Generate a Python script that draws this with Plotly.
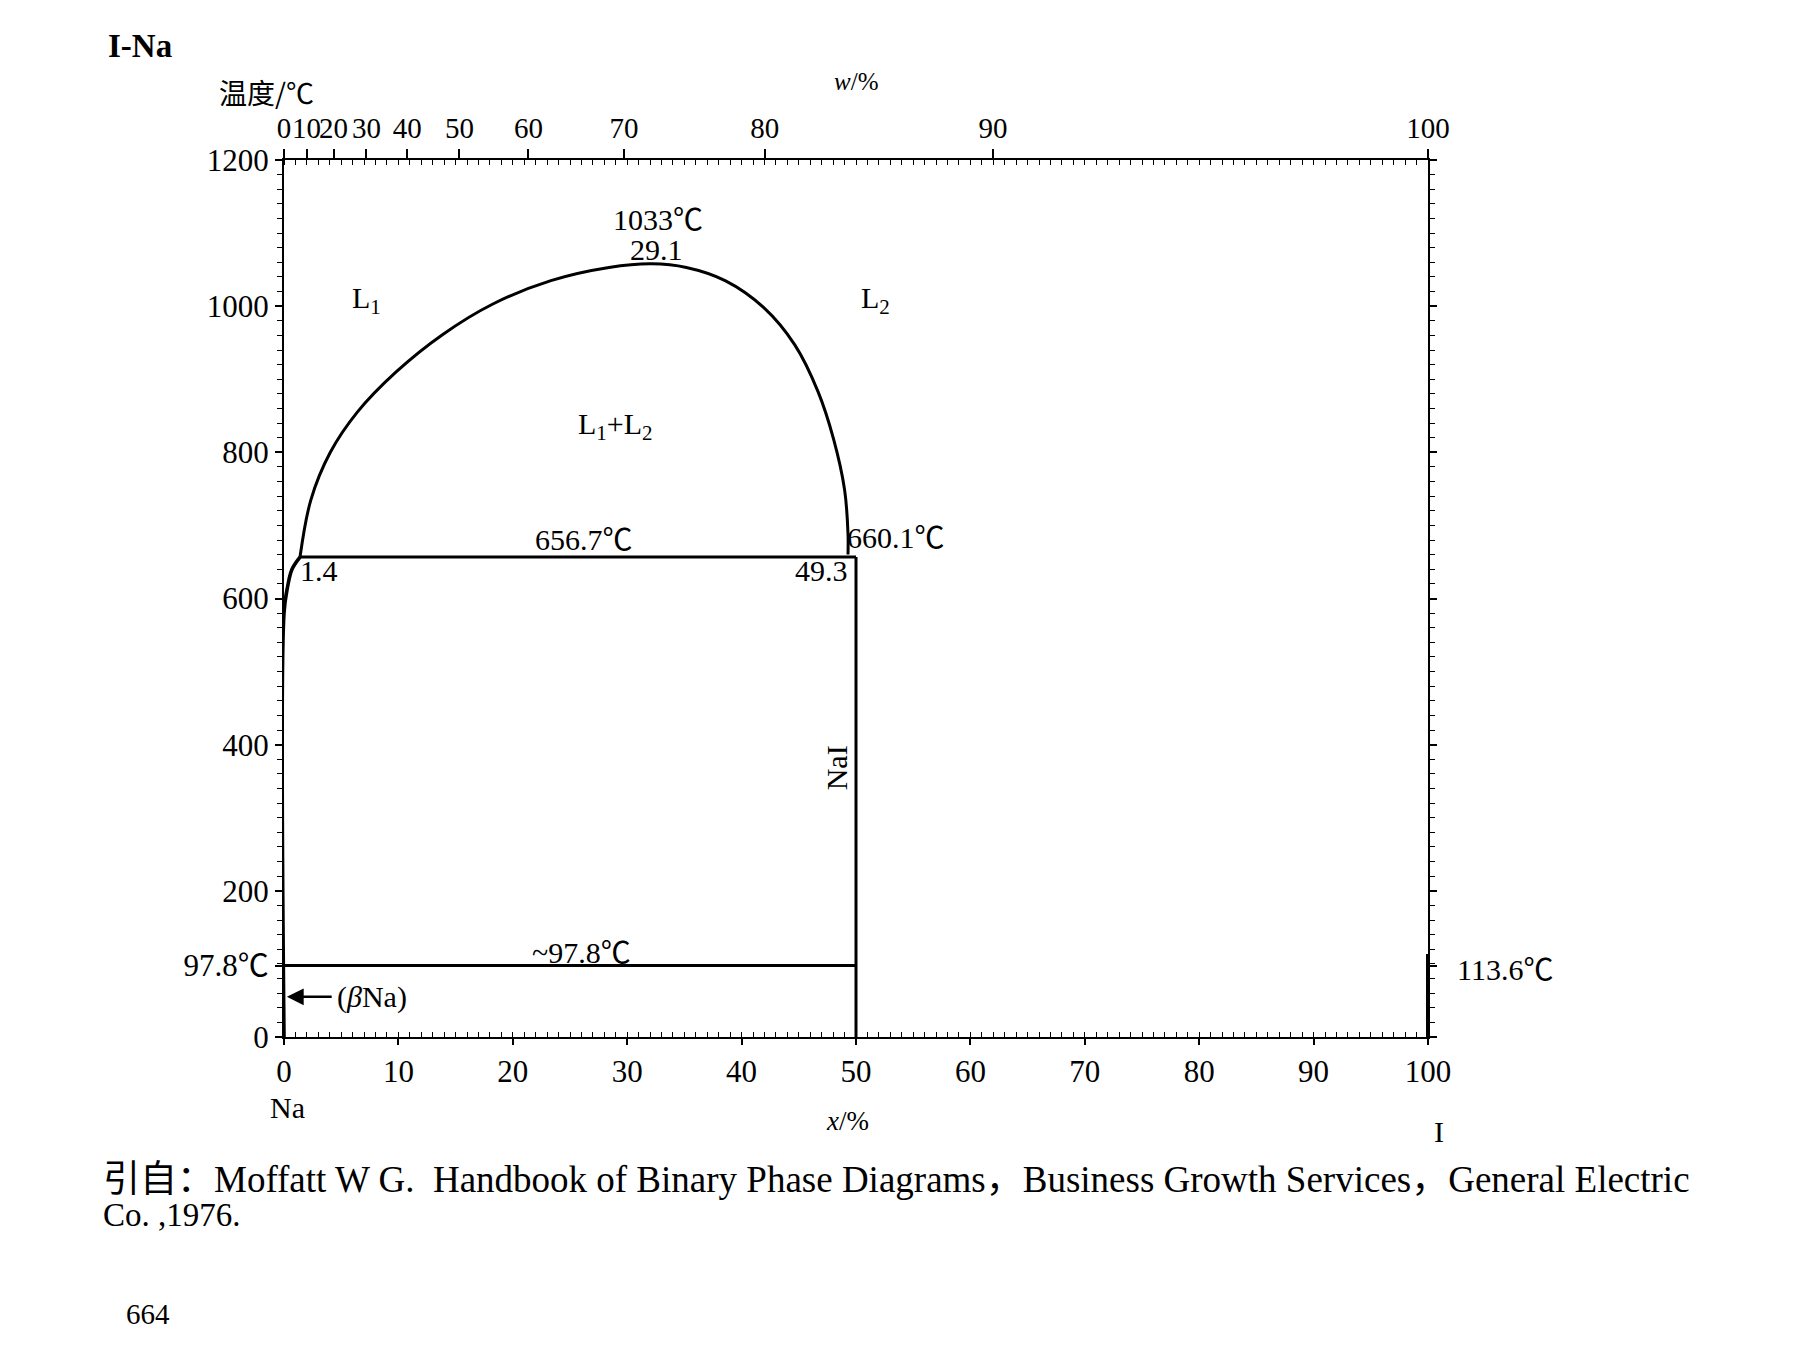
import plotly.graph_objects as go

# ---------------- data (x = mole % I, T = temperature in °C) ----------------
na_side_x = [0, 0, 0.3, 0.7, 1.4]
na_side_T = [0, 580, 615, 640, 656.7]

dome_x = [1.4, 2.35, 4.05, 6.41, 9.80, 13.85, 18.26, 23.33, 28.41, 32.13,
          35.17, 38.56, 41.94, 44.65, 46.68, 48.04, 49.0, 49.3, 49.3]
dome_T = [656.7, 735, 800, 855, 910, 961, 1003, 1035, 1053, 1058,
          1053, 1035, 998, 947, 883, 818, 749, 689, 660.1]

monotectic_x = [1.4, 50]
monotectic_T = [656.7, 656.7]

nai_x = [50, 50]
nai_T = [656.7, 0]

eutectic_x = [0, 50]
eutectic_T = [97.8, 97.8]

iodine_x = [100, 100]
iodine_T = [0, 113.6]

# axis ticks
bottom_ticks = [0, 10, 20, 30, 40, 50, 60, 70, 80, 90, 100]
left_ticks = [0, 97.8, 200, 400, 600, 800, 1000, 1200]
left_ticktext = ["0", "97.8℃", "200", "400", "600", "800", "1000", "1200"]
top_w_labels = [0, 10, 20, 30, 40, 50, 60, 70, 80, 90, 100]   # mass % I

M_I, M_NA = 126.9, 22.99


def w_to_x(w):
    a = w / M_I
    b = (100 - w) / M_NA
    return 100 * a / (a + b)


top_tickvals = [w_to_x(w) for w in top_w_labels]
top_ticktext = [str(w) for w in top_w_labels]

SERIF = "Liberation Serif, Times New Roman, Noto Sans CJK SC, serif"
CJK = "Noto Sans CJK SC, Liberation Serif"
BLACK = "#000000"

X_MAX, T_MAX = 100.0, 1200.0

fig = go.Figure()


def add_line(x, y, width=3.0, shape="linear"):
    fig.add_trace(go.Scatter(x=x, y=y, mode="lines",
                             line=dict(color=BLACK, width=width, shape=shape,
                                       smoothing=1.0 if shape == "spline" else None),
                             cliponaxis=False, hoverinfo="skip", showlegend=False))


add_line(na_side_x, na_side_T, width=3.6, shape="spline")
add_line(dome_x, dome_T, width=3.0, shape="spline")
add_line(monotectic_x, monotectic_T, width=3.0)
add_line(nai_x, nai_T, width=3.0)
add_line(eutectic_x, eutectic_T, width=3.2)
add_line(iodine_x, iodine_T, width=4.0)

# invisible trace to anchor top axis
fig.add_trace(go.Scatter(x=[0, 100], y=[None, None], xaxis="x2", yaxis="y",
                         mode="lines", hoverinfo="skip", showlegend=False))

ann = []


def txt(x, y, text, size=30, xanchor="center", yanchor="middle", family=SERIF,
        angle=0):
    # positions given in data units, placed via paper fractions so labels
    # outside the axis ranges are still drawn
    ann.append(dict(x=x / X_MAX, y=y / T_MAX, xref="paper", yref="paper",
                    text=text, showarrow=False,
                    xanchor=xanchor, yanchor=yanchor, textangle=angle,
                    font=dict(family=family, size=size, color=BLACK)))


txt(7.2, 1008, "L<sub>1</sub>")
txt(51.7, 1008, "L<sub>2</sub>")
txt(29.0, 836, "L<sub>1</sub>+L<sub>2</sub>")
txt(32.7, 1118, "1033℃")
txt(32.6, 1077, "29.1")
txt(26.2, 681, "656.7℃")
txt(3.1, 638, "1.4")
txt(47.0, 638, "49.3")
txt(49.0, 684, "660.1℃", xanchor="left")
txt(48.25, 369, "NaI", angle=-90)
txt(26.0, 116, "~97.8℃")
txt(4.5, 55, "(<i>β</i>Na)", xanchor="left")
txt(102.4, 93, "113.6℃", xanchor="left")
txt(0.3, -97, "Na")
txt(49.3, -115, "<i>x</i>/%", size=27)
txt(101.0, -129, "I")
txt(50.0, 1307, "<i>w</i>/%", size=25)
txt(-1.5, 1293, "温度/℃", size=28, family=CJK)
txt(-15.6, 1356, "<b>I-Na</b>", size=33, xanchor="left")

# arrow for (βNa)
ann.append(dict(x=0.25, y=55, xref="x", yref="y", ax=4.3, ay=55,
                axref="x", ayref="y", text="", showarrow=True,
                arrowhead=2, arrowsize=1.4, arrowwidth=2.4, arrowcolor=BLACK))

# figure geometry (the page adds an 8 px body margin)
OFF = 8
W, H = 1795 - 2 * OFF, 1346 - 2 * OFF
L, T = 284 - OFF, 160 - OFF
PW, PH = 1144, 877
R, B = W - L - PW, H - T - PH


def paper_x(px):
    return (px - OFF - L) / PW


def paper_y(py):
    return 1 - (py - OFF - T) / PH


for px, py, text, size in [
    (101, 1179, "引自：Moffatt W G.  Handbook of Binary Phase Diagrams，Business Growth Services，General Electric", 37),
    (101, 1215, "Co. ,1976.", 33),
    (124, 1314, "664", 29),
]:
    ann.append(dict(x=paper_x(px), y=paper_y(py), xref="paper", yref="paper",
                    text=text, showarrow=False, xanchor="left", yanchor="middle",
                    font=dict(family=SERIF, size=size, color=BLACK)))

fig.update_layout(
    width=W, height=H,
    margin=dict(l=L, r=R, t=T, b=B, autoexpand=False),
    paper_bgcolor="white", plot_bgcolor="white",
    showlegend=False,
    annotations=ann,
    xaxis=dict(range=[0, X_MAX], tickmode="array", tickvals=bottom_ticks,
               ticks="outside", ticklen=6, tickwidth=1.8, tickcolor=BLACK,
               showline=True, linecolor=BLACK, linewidth=2.0,
               showgrid=False, zeroline=False, tickangle=0,
               tickfont=dict(family=SERIF, size=31, color=BLACK),
               minor=dict(tickvals=list(range(0, 101)), ticks="inside",
                          ticklen=5, tickwidth=1.3, tickcolor=BLACK,
                          showgrid=False)),
    xaxis2=dict(range=[0, X_MAX], overlaying="x", side="top", anchor="y",
                tickmode="array", tickvals=top_tickvals, ticktext=top_ticktext,
                ticks="outside", ticklen=9, tickwidth=1.5, tickcolor=BLACK,
                showline=True, linecolor=BLACK, linewidth=1.5,
                showgrid=False, zeroline=False, tickangle=0,
                tickfont=dict(family=SERIF, size=29, color=BLACK),
                minor=dict(tickvals=list(range(0, 101)), ticks="inside",
                           ticklen=5, tickwidth=1.2, tickcolor=BLACK,
                           showgrid=False)),
    yaxis=dict(range=[0, T_MAX], tickmode="array", tickvals=left_ticks,
               ticktext=left_ticktext, ticks="outside", ticklen=7,
               tickwidth=1.8, tickcolor=BLACK, showline=True, linecolor=BLACK,
               linewidth=2.0, mirror="ticks", showgrid=False, zeroline=False,
               tickfont=dict(family=SERIF, size=31, color=BLACK),
               minor=dict(tickvals=list(range(0, 1201, 20)), ticks="outside",
                          ticklen=5, tickwidth=1.3, tickcolor=BLACK,
                          showgrid=False)),
)

fig.write_html("out.html")
